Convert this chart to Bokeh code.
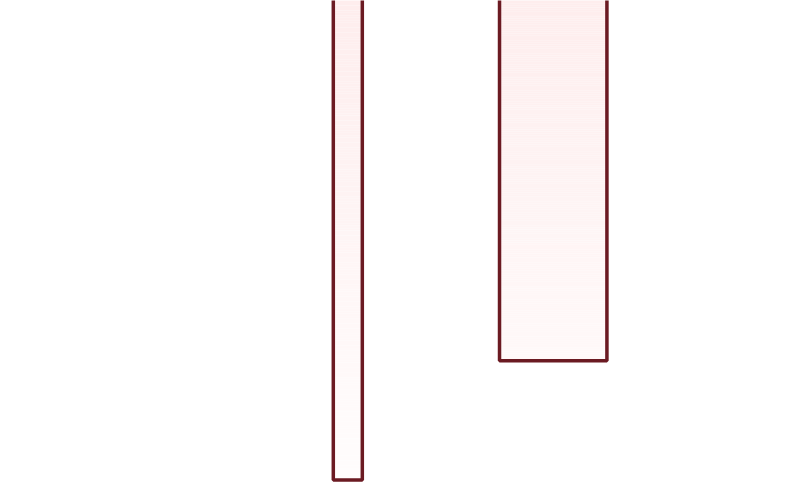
from bokeh.plotting import figure
from bokeh.models import Range1d
from bokeh.embed import file_html
from bokeh.resources import INLINE
import numpy as np

# data
bar_names = ["A", "B"]
bar_left = [42.45, 63.65]
bar_right = [46.15, 77.35]
bar_bottom = [0.7, 25.4]
bar_top = [130.0, 130.0]

Y_MIN, Y_MAX = 0.0, 100.0
top_color = (254, 237, 237)
bottom_color = (255, 253, 253)

p = figure(width=784, height=483, output_backend="svg", toolbar_location=None,
           x_range=Range1d(0, 100), y_range=Range1d(Y_MIN, Y_MAX),
           min_border=0, outline_line_color=None)
p.axis.visible = False
p.grid.visible = False
p.background_fill_color = "white"
p.border_fill_color = "white"

# gradient fill built from slices
n = 200
for l, r, b, t in zip(bar_left, bar_right, bar_bottom, bar_top):
    edges = np.linspace(b, min(t, Y_MAX + 2), n + 1)
    lefts, rights, bots, tops, cols = [], [], [], [], []
    for i in range(n):
        mid = 0.5 * (edges[i] + edges[i + 1])
        f = np.clip((mid - Y_MIN) / (Y_MAX - Y_MIN), 0, 1)
        c = tuple(int(round(bottom_color[k] + (top_color[k] - bottom_color[k]) * f)) for k in range(3))
        lefts.append(l); rights.append(r); bots.append(edges[i]); tops.append(edges[i + 1])
        cols.append("#%02x%02x%02x" % c)
    p.quad(left=lefts, right=rights, bottom=bots, top=tops, fill_color=cols, line_color=None)

p.quad(left=bar_left, right=bar_right, bottom=bar_bottom, top=bar_top,
       fill_color=None, line_color="#6b1a22", line_width=3.5)

open("out.html", "w").write(file_html(p, INLINE))
